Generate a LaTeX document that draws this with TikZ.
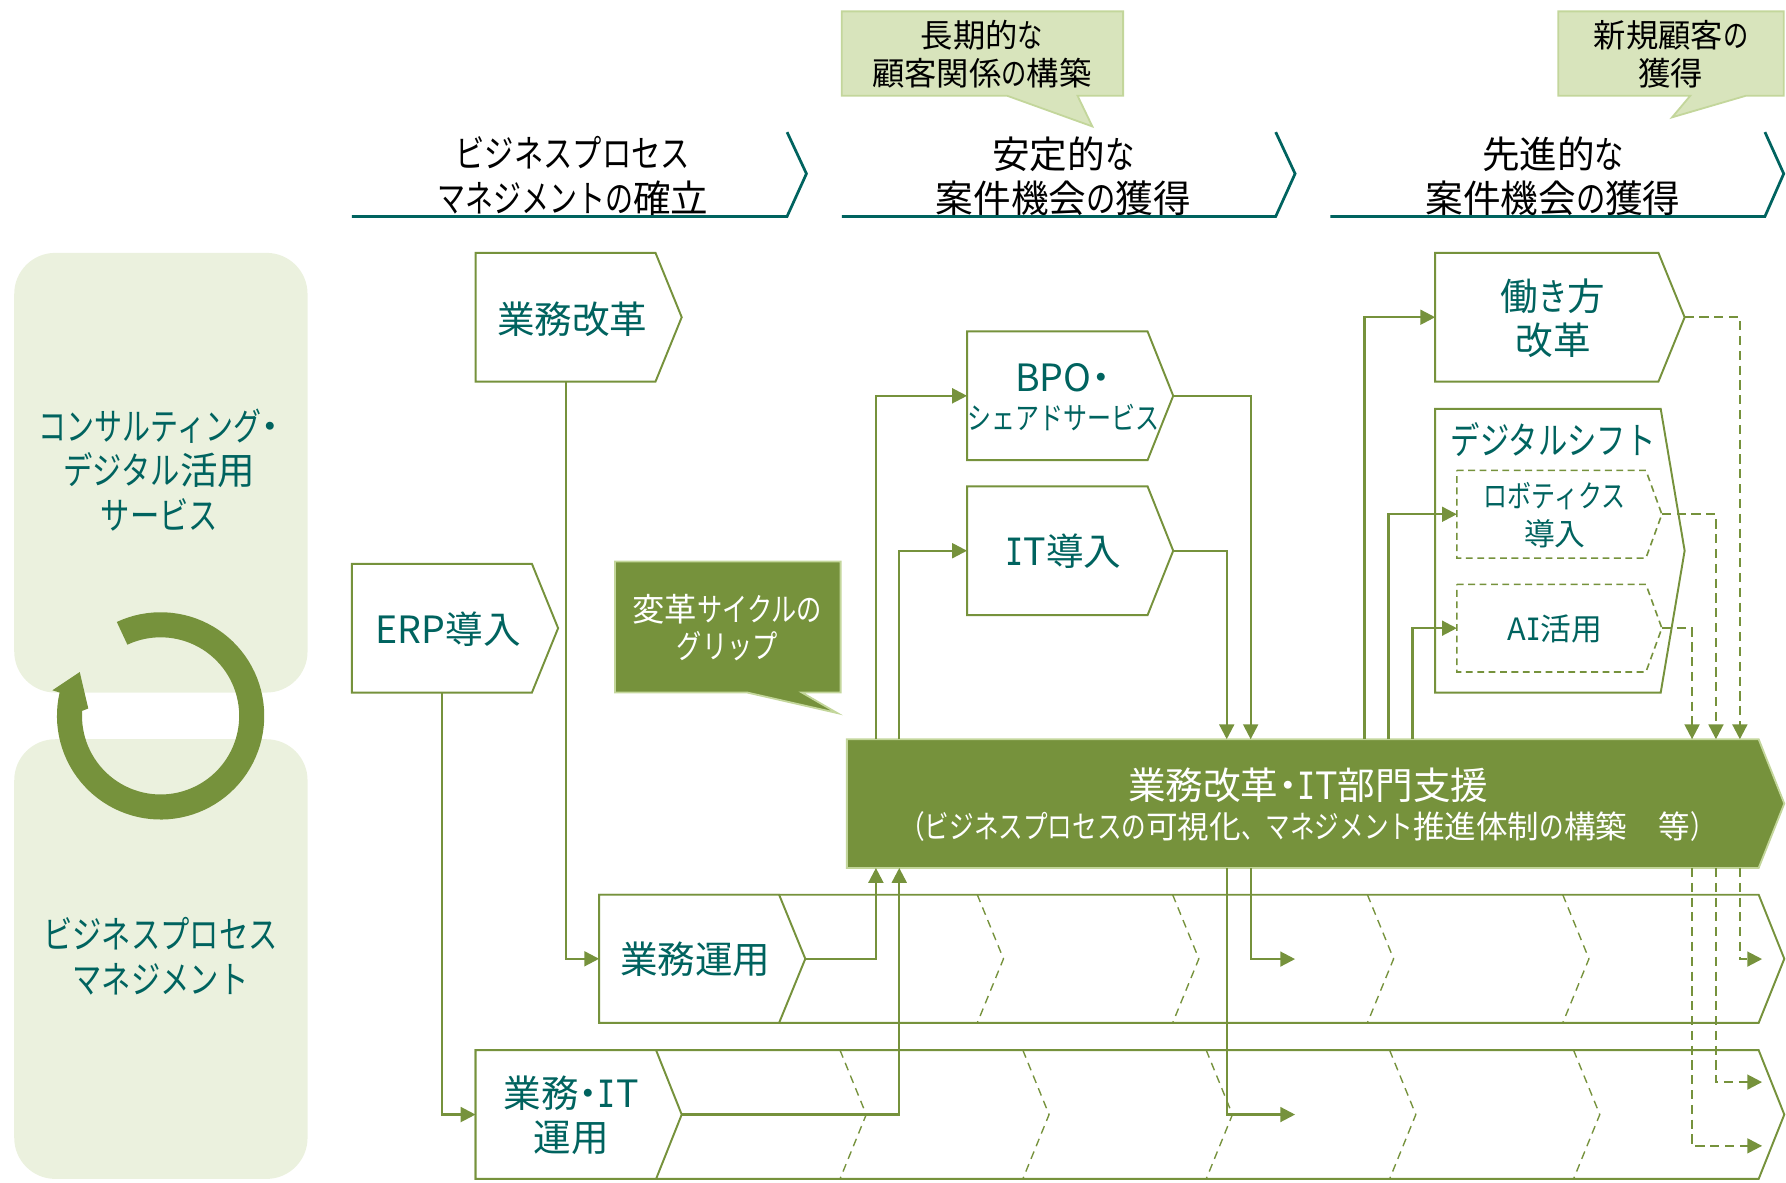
\documentclass[tikz,border=0pt]{standalone}
\usepackage{fontspec}
\usetikzlibrary{arrows.meta,calc}
\setmainfont{Noto Sans CJK JP}
\newfontfamily\jp{Noto Sans CJK JP}
\newfontfamily\kn[FakeStretch=0.78]{Noto Sans CJK JP}
\newfontfamily\knn[FakeStretch=0.745]{Noto Sans CJK JP}
\newfontfamily\serifI[FakeStretch=0.8]{DejaVu Sans Mono}
\newcommand\K[1]{{\kn #1}}
\newcommand\KN[1]{{\knn #1}}
\newcommand\D{\makebox[.5em]{\jp ・}}
\newcommand\Ii{{\serifI I}}
\definecolor{leaf}{HTML}{76923C}
\definecolor{leafpale}{HTML}{C3D69B}
\definecolor{calloutfill}{HTML}{D8E4BC}
\definecolor{panelfill}{HTML}{EBF1DE}
\definecolor{tealtext}{HTML}{00635F}
\newcommand\FS[2]{\fontsize{#1}{#2}\selectfont}
\tikzset{
  chevline/.style={draw=leaf,line width=0.85pt,fill=white,line join=miter},
  chevdash/.style={chevline,dash pattern=on 3pt off 2pt,line width=0.7pt},
  innerdash/.style={draw=leaf,line width=0.6pt,dash pattern=on 3.5pt off 2.5pt},
  anch/.style={inner sep=0pt,outer sep=0pt,text width=0pt},
  lbl/.style={inner sep=0pt,align=center,text=tealtext,font=\FS{16.5}{19.5}},
  lblsmall/.style={inner sep=0pt,align=center,text=tealtext,font=\FS{13.5}{16.5}},
  headtxt/.style={inner sep=0pt,align=center,text=black,font=\FS{16.5}{19.5}},
  calltxt/.style={inner sep=0pt,align=center,text=black,font=\FS{14.2}{16.5}},
  headline/.style={draw=tealtext,line width=1.2pt,line join=miter},
  callout/.style={draw=leafpale,line width=0.8pt,fill=calloutfill},
  darkbox/.style={draw=leafpale,line width=0.8pt,fill=leaf},
  panel/.style={fill=panelfill,rounded corners=18pt},
  conn/.style={draw=leaf,line width=1pt,-{Triangle[length=6.5pt,width=6.5pt]}},
  conndash/.style={conn,dash pattern=on 4pt off 2.5pt},
}
\newcommand\chev[7][]{%
  \path[chevline,#1] (#3,#6) -- (#4,#6) -- (#5,{(#6+#7)/2}) -- (#4,#7) -- (#3,#7) -- cycle;
  \node[anch,minimum width={(#5-#3)*0.5pt},minimum height={(#7-#6)*0.5pt}] (#2) at ({(#3+#5)/2},{(#6+#7)/2}) {};
}
\newcommand\innerchev[4]{\path[innerdash] (#1,#3) -- ({#1+23},{(#3+#4)/2}) -- (#1,#4);}
\begin{document}
\begin{tikzpicture}[x=0.5pt,y=-0.5pt]
\useasboundingbox (0,0) rectangle (1568,1038.6);
% left panels
\path[panel] (12.5,222) rectangle (270,608);
\path[panel] (12.5,649) rectangle (270,1035);
\node[lbl] (pc) at (140,412.5) {\KN{コンサルティング}\D\\\K{デジタル}活用\\\K{サービス}};
\node[lbl] (pb) at (141,839.5) {\K{ビジネスプロセス}\\\K{マネジメント}};
% cycle arrow
\fill[leaf] plot[domain=115:-193,samples=90] ({141+91*cos(\x)},{628.5-91*sin(\x)})
  -- (46,606) -- (70,590) -- (77.5,622) -- (72.5,624)
  -- plot[domain=-184:115,samples=90] ({141+69*cos(\x)},{628.5-69*sin(\x)}) -- cycle;
% headers
\path[headline] (309,190) -- (691,190) -- (708,152.5) -- (691,116);
\path[headline] (739,190) -- (1120,190) -- (1137,152.5) -- (1120,116);
\path[headline] (1168,190) -- (1549.5,190) -- (1566,152.5) -- (1549.5,116);
\node[headtxt] (h1) at (503,154.5) {\K{ビジネスプロセス}\\\KN{マネジメントの}確立};
\node[headtxt] (h2) at (933.5,154.5) {安定的\K{な}\\案件機会\K{の}獲得};
\node[headtxt] (h3) at (1363.5,154.5) {先進的\K{な}\\案件機会\K{の}獲得};
% callouts
\path[callout] (739,10) -- (986,10) -- (986,84) -- (946,84) -- (959,111) -- (884,84) -- (739,84) -- cycle;
\node[calltxt] (c1) at (862,47.5) {長期的\K{な}\\顧客関係\K{の}構築};
\path[callout] (1368,10) -- (1566,10) -- (1566,84) -- (1533,84) -- (1468,103) -- (1484,84) -- (1368,84) -- cycle;
\node[calltxt] (c2) at (1467,47.5) {新規顧客\K{の}\\獲得};
\path[darkbox] (540,493) -- (738,493) -- (738,608) -- (704,608) -- (735,626) -- (656,608) -- (540,608) -- cycle;
\node[calltxt,text=white] (grip) at (638.5,551) {変革\K{サイクルの}\\\K{グリップ}};
% rows
\chev{oprow}{526}{1544}{1566.5}{785.5}{898}
\chev{itrow}{417.5}{1544}{1566.5}{922}{1035}
\innerchev{858}{0}{785.5}{898}
\innerchev{1029.5}{0}{785.5}{898}
\innerchev{1200.5}{0}{785.5}{898}
\innerchev{1372}{0}{785.5}{898}
\innerchev{737.5}{0}{922}{1035}
\innerchev{898}{0}{922}{1035}
\innerchev{1059}{0}{922}{1035}
\innerchev{1220}{0}{922}{1035}
\innerchev{1381.5}{0}{922}{1035}
\chev{opr}{526}{684}{707}{785.5}{898}
\chev{itr}{417.5}{576}{598.5}{922}{1035}
% boxes
\chev{reform}{417.5}{575.5}{598.5}{222}{335}
\chev{erp}{309}{467}{490}{495}{608}
\chev{bpo}{849}{1007.5}{1030}{291}{404}
\chev{itin}{849}{1007.5}{1030}{427}{540}
\chev{work}{1260}{1456}{1479}{222}{335}
\chev{dshift}{1260}{1458}{1479}{359}{608}
\chev[chevdash]{robo}{1279}{1445}{1459}{413}{490}
\chev[chevdash]{ai}{1279}{1445}{1459}{513}{590}
% big bar
\path[darkbox] (743.5,649) -- (1544,649) -- (1566.5,705.5) -- (1544,762) -- (743.5,762) -- cycle;
\node[anch,minimum width={823*0.5pt},minimum height={113*0.5pt}] (bar) at (1155,705.5) {};
% labels
\node[lbl] (reformt) at (502.5,280) {業務改革};
\node[lbl] (erpt) at (393.5,552) {ERP導入};
\node[lbl] (bpot) at (933,331.5) {BPO\D};
\node[lblsmall] (bpot2) at (934,367) {\K{シェアドサービス}};
\node[lbl] (itint) at (933.5,484) {\Ii T導入};
\node[lbl] (workt) at (1363.5,279.5) {働\K{き}方\\改革};
\node[lbl] (dshiftt) at (1363.5,386) {\K{デジタルシフト}};
\node[lblsmall] (robot) at (1365,452.5) {\K{ロボティクス}\\導入};
\node[lblsmall] (ait) at (1365,552) {A\Ii 活用};
\node[lbl] (oprt) at (610.5,842) {業務運用};
\node[lbl] (itrt) at (501.5,979) {業務\D\Ii T\\運用};
\node[inner sep=0pt,align=center,text=white,font=\FS{16.5}{18}] (bart1) at (1148.5,689) {業務改革\D\Ii T部門支援};
\node[inner sep=0pt,align=center,text=white,font=\FS{13.85}{16}] (bart2) at (1148,726) {\K{（ビジネスプロセスの}可視化\K{、マネジメント}推進体制\K{の}構築　等\K{）}};
% lanes
\coordinate (L388) at (388,0);
\coordinate (L497) at (497,0);
\coordinate (L769) at (769,0);
\coordinate (L790) at (789.5,0);
\coordinate (L1077) at (1077,0);
\coordinate (L1098) at (1098,0);
\coordinate (L1198) at (1198,0);
\coordinate (L1219) at (1219,0);
\coordinate (L1240) at (1240,0);
\coordinate (L1485) at (1485.5,0);
\coordinate (L1506) at (1506.5,0);
\coordinate (L1527) at (1527.5,0);
\coordinate (e1) at (1137,842);
\coordinate (e2) at (1137,978.5);
\coordinate (e3) at (1547,842);
\coordinate (e4) at (1547,950);
\coordinate (e5) at (1547,1006);
% connectors
\draw[conn] (L497 |- reform.south) |- (opr.west);
\draw[conn] (L388 |- erp.south) |- (itr.west);
\draw[conn] (opr.east) -| (L769 |- bar.south);
\draw[conn] (itr.east) -| (L790 |- bar.south);
\draw[conn] (L769 |- bar.north) |- (bpo.west);
\draw[conn] (L790 |- bar.north) |- (itin.west);
\draw[conn] (bpo.east) -| (L1098 |- bar.north);
\draw[conn] (itin.east) -| (L1077 |- bar.north);
\draw[conn] (L1198 |- bar.north) |- (work.west);
\draw[conn] (L1219 |- bar.north) |- (robo.west);
\draw[conn] (L1240 |- bar.north) |- (ai.west);
\draw[conndash] (work.east) -| (L1527 |- bar.north);
\draw[conndash] (robo.east) -| (L1506 |- bar.north);
\draw[conndash] (ai.east) -| (L1485 |- bar.north);
\draw[conn] (L1098 |- bar.south) |- (e1);
\draw[conn] (L1077 |- bar.south) |- (e2);
\draw[conndash] (L1527 |- bar.south) |- (e3);
\draw[conndash] (L1506 |- bar.south) |- (e4);
\draw[conndash] (L1485 |- bar.south) |- (e5);
\end{tikzpicture}
\end{document}
